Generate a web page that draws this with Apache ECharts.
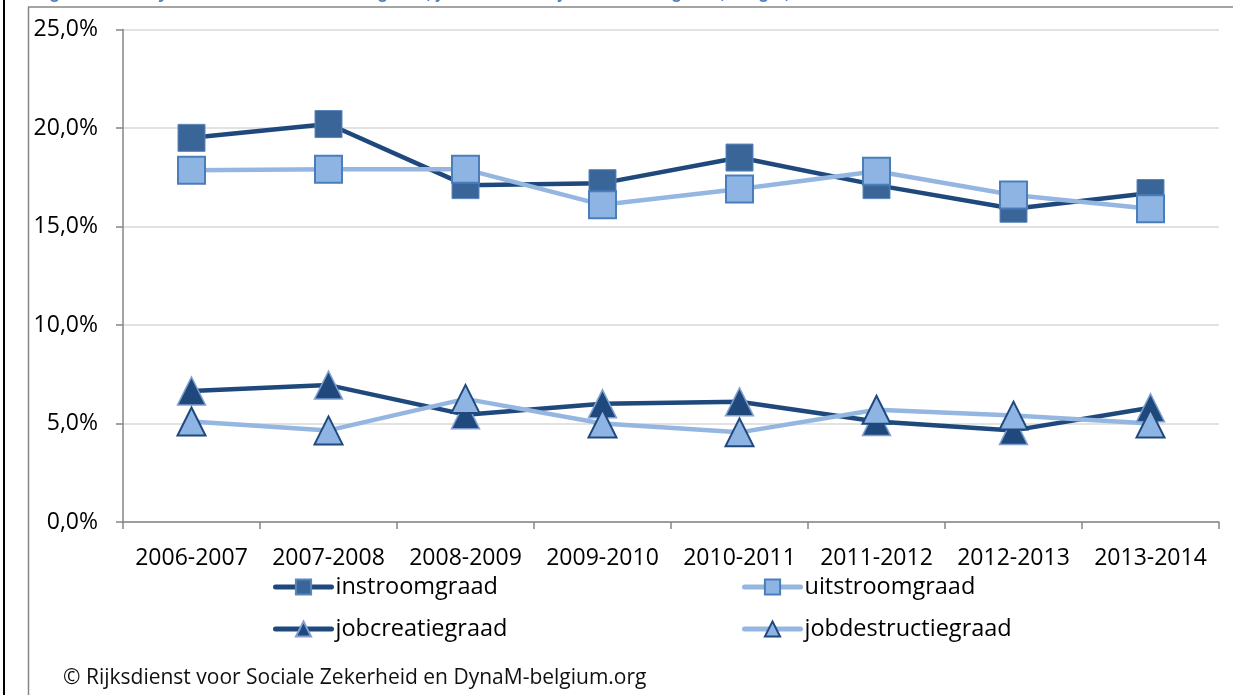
<!DOCTYPE html>
<html>
<head>
<meta charset="utf-8">
<script src="https://cdn.jsdelivr.net/npm/echarts@6/dist/echarts.min.js"></script>
<style>html,body{margin:0;padding:0;background:#fff;}#c{width:1233px;height:695px;}</style>
</head>
<body>
<div id="c"></div>
<script>
var categories = ['2006-2007','2007-2008','2008-2009','2009-2010','2010-2011','2011-2012','2012-2013','2013-2014'];
var instroomgraad = [19.5, 20.2, 17.1, 17.2, 18.5, 17.1, 15.9, 16.7];
var uitstroomgraad = [17.85, 17.9, 17.9, 16.1, 16.9, 17.8, 16.6, 15.9];
var jobcreatiegraad = [6.65, 6.95, 5.45, 6.0, 6.1, 5.1, 4.65, 5.8];
var jobdestructiegraad = [5.1, 4.65, 6.25, 5.0, 4.55, 5.7, 5.4, 5.0];
var yTicks = [0, 5, 10, 15, 20, 25];
var seriesNames = ['instroomgraad','uitstroomgraad','jobcreatiegraad','jobdestructiegraad'];
var titleText = 'Figuur 1: Jobdynamiek: in- en uitstroomgraad, jobcreatie- en jobdestructiegraad, België, 2006-2014';
var sourceText = '© Rijksdienst voor Sociale Zekerheid en DynaM-belgium.org';

var DARK = '#1F497D', LIGHT = '#8EB4E3', LIGHTLINE = '#95B6E0';
var FONT = 'Open Sans';

function legendAt(name, left, top, lineColor) {
  return {
    data: [name], left: left, top: top, padding: 0,
    itemWidth: 56, itemHeight: 19, itemGap: 0,
    lineStyle: { width: 5, color: lineColor, cap: 'round' },
    textStyle: { fontFamily: FONT, fontSize: 23.5, color: '#000', padding: [0,0,0,-1] },
    selectedMode: false
  };
}

var chart = echarts.init(document.getElementById('c'), null, {renderer: 'canvas'});
chart.setOption({
  animation: false,
  backgroundColor: '#fff',
  title: {
    text: titleText, left: 33, top: -16, padding: 0,
    textStyle: { fontFamily: 'Liberation Sans', fontSize: 18, fontWeight: 'bold', color: '#4F81BD' }
  },
  grid: { left: 123, right: 14, top: 29.5, bottom: 173, containLabel: false },
  xAxis: {
    type: 'category', data: categories, boundaryGap: true,
    axisLine: { lineStyle: { color: '#868686', width: 1.5 } },
    axisTick: { show: true, length: 7, alignWithLabel: false, lineStyle: { color: '#868686', width: 1.5 } },
    axisLabel: { fontFamily: FONT, fontSize: 23, color: '#000', margin: 25, interval: 0 }
  },
  yAxis: {
    type: 'value', min: 0, max: 25, interval: 5,
    axisLine: { show: true, lineStyle: { color: '#868686', width: 1.5 } },
    axisTick: { show: true, length: 7, lineStyle: { color: '#868686', width: 1.5 } },
    splitLine: { lineStyle: { color: '#D9D9D9', width: 1.5 } },
    axisLabel: { fontFamily: FONT, fontSize: 23, color: '#000', margin: 25,
      formatter: function (v) { return yTicks.indexOf(v) >= 0 ? v.toFixed(1).replace('.', ',') + '%' : ''; } }
  },
  legend: [
    legendAt(seriesNames[0], 273, 575, DARK),
    legendAt(seriesNames[1], 742, 575, LIGHTLINE),
    legendAt(seriesNames[2], 273, 617, DARK),
    legendAt(seriesNames[3], 742, 617, LIGHTLINE)
  ],
  graphic: [
    { type: 'line', shape: { x1: 4, y1: 0, x2: 4, y2: 695 }, style: { stroke: '#000', lineWidth: 2 } },
    { type: 'line', shape: { x1: 28.5, y1: 7, x2: 28.5, y2: 695 }, style: { stroke: '#868686', lineWidth: 1.5 } },
    { type: 'line', shape: { x1: 28, y1: 7, x2: 1233, y2: 7 }, style: { stroke: '#868686', lineWidth: 1.5 } },
    { type: 'text', left: 63, top: 668, style: { text: sourceText, font: '21px "Open Sans"', fill: '#111' } }
  ],
  series: [
    { name: seriesNames[0], type: 'line', data: instroomgraad, symbol: 'rect', symbolSize: 27,
      lineStyle: { color: DARK, width: 4.5 },
      itemStyle: { color: '#3A6599', borderColor: '#5A86BD', borderWidth: 1 } },
    { name: seriesNames[1], type: 'line', data: uitstroomgraad, symbol: 'rect', symbolSize: 27,
      lineStyle: { color: LIGHTLINE, width: 4.5 },
      itemStyle: { color: LIGHT, borderColor: '#4A7EBB', borderWidth: 2 } },
    { name: seriesNames[2], type: 'line', data: jobcreatiegraad, symbol: 'triangle', symbolSize: [28, 28],
      lineStyle: { color: DARK, width: 4.5 },
      itemStyle: { color: DARK, borderColor: '#7F9FCF', borderWidth: 1.5 } },
    { name: seriesNames[3], type: 'line', data: jobdestructiegraad, symbol: 'triangle', symbolSize: [28, 28],
      lineStyle: { color: LIGHTLINE, width: 4.5 },
      itemStyle: { color: LIGHT, borderColor: DARK, borderWidth: 2 } }
  ]
});
</script>
</body>
</html>
